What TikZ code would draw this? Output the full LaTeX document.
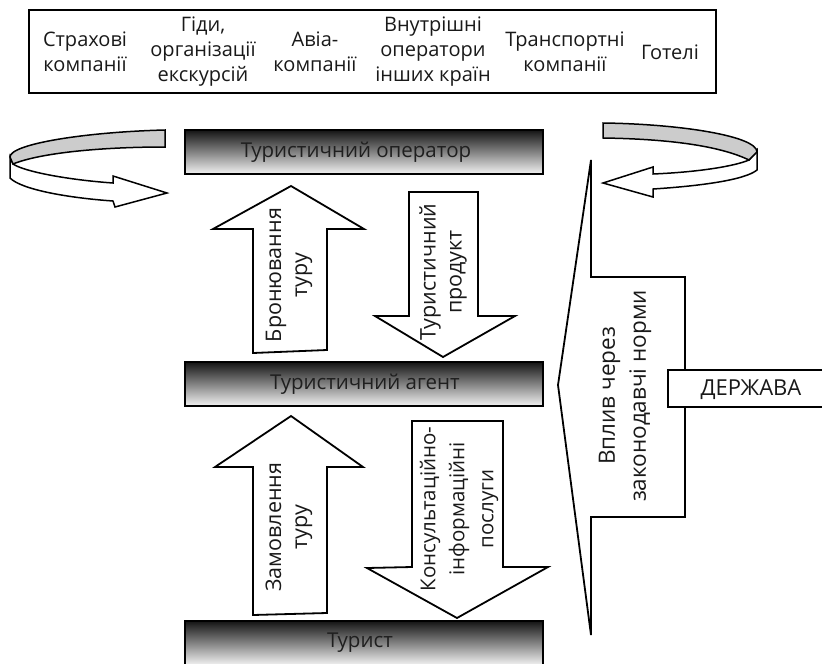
\documentclass[tikz,border=0pt]{standalone}
\usepackage{fontspec}
\setmainfont{Open Sans}
\begin{document}
\begin{tikzpicture}[x=1pt,y=-1pt,line join=miter,
  box/.style={draw=black,line width=2.4pt},
  bar/.style={draw=black,line width=2pt,top color=black!92,bottom color=black!5,minimum width=358pt,inner sep=0pt},
  lbl/.style={font=\fontsize{21.5}{26}\selectfont,align=center,inner sep=0pt,text=black!90},
  tlbl/.style={font=\fontsize{20}{25}\selectfont,align=center,inner sep=0pt,text=black!90},
  blbl/.style={font=\fontsize{20.5}{25}\selectfont,align=center,inner sep=0pt,text=black!88},
  hollow/.style={draw=black,line width=1.8pt,fill=white},
  ribbon/.style={draw=black,line width=1.5pt},
]
\useasboundingbox (0,0) rectangle (822,664);
\clip (0,0) rectangle (822,664);
% top box
\draw[box] (29,10) rectangle (716,93);
\node[tlbl] (c1) at (85,52) {Страхові\\компанії};
\node[tlbl] (c2) at (203,52) {Гіди,\\організації\\екскурсій};
\node[tlbl] (c3) at (315,52) {Авіа-\\компанії};
\node[tlbl] (c4) at (433,52) {Внутрішні\\оператори\\інших країн};
\node[tlbl] (c5) at (565,52) {Транспортні\\компанії};
\node[tlbl] (c6) at (670,52) {Готелі};
% bars
\node[bar,minimum height=44pt] (op) at (364,152) {};
\node[blbl] (opt) at (356,152) {Туристичний оператор};
\node[bar,minimum height=44pt] (ag) at (364,384) {};
\node[blbl] (agt) at (365,384) {Туристичний агент};
\node[bar,minimum height=44pt] (tr) at (364,643) {};
\node[blbl] (trt) at (360,643) {Турист};
% big arrows
\draw[hollow] (291,186) -- (364,229) -- (327,229) -- (327,350) -- (253,353) -- (253,229) -- (213,229) -- cycle;
\node[lbl,rotate=90] (a1) at (289,275) {Бронювання\\туру};
\draw[hollow] (409,192) -- (478,192) -- (478,316) -- (515,316) -- (443,357) -- (375,316) -- (409,316) -- cycle;
\node[lbl,rotate=90] (a2) at (443,272) {Туристичний\\продукт};
\draw[hollow] (291,416) -- (363,467) -- (327,467) -- (327,613) -- (253,615) -- (253,467) -- (215,467) -- cycle;
\node[lbl,rotate=90] (a3) at (289,527) {Замовлення\\туру};
\draw[hollow] (412,421) -- (503,421) -- (503,567) -- (548,567) -- (457,618) -- (367,568) -- (412,567) -- cycle;
\node[lbl,rotate=90,font=\fontsize{20.5}{29}\selectfont] (a4) at (459,509) {Консультаційно-\\інформаційні\\послуги};
% callout
\draw[hollow] (591,160) -- (591,277) -- (685,277) -- (685,517) -- (591,517) -- (591,635) -- (558,385) -- cycle;
\node[lbl,rotate=90,font=\fontsize{22.5}{31}\selectfont] (a5) at (625,396) {Вплив через\\законодавчі норми};
\draw[box,line width=2pt,fill=white] (668,370) rectangle (830,407);
\node[lbl,font=\fontsize{22}{26}\selectfont] (st) at (751,390) {ДЕРЖАВА};
% left ribbon arrow
\draw[ribbon,fill=white] (10,157) -- (10,178) .. controls (22,190) and (70,198) .. (113,201) -- (115,207) -- (167,193) -- (113,176) -- (113,183) .. controls (70,180) and (25,172) .. (13,164) -- cycle;
\draw[ribbon,fill=black!20] (165,130) .. controls (85,132) and (10,144) .. (10,157) -- (13,164) .. controls (40,153) and (100,147) .. (165,147) -- cycle;
% right ribbon arrow
\draw[ribbon,fill=white] (757,150) -- (757,170) .. controls (745,180) and (700,186) .. (653,189) -- (653,197) -- (603,183) -- (653,167) -- (653,174) .. controls (700,172) and (735,166) .. (749,160) -- cycle;
\draw[ribbon,fill=black!20] (603,123) .. controls (680,124) and (757,136) .. (757,152) -- (749,160) .. controls (720,146) and (670,139) .. (603,138) -- cycle;
\end{tikzpicture}
\end{document}
